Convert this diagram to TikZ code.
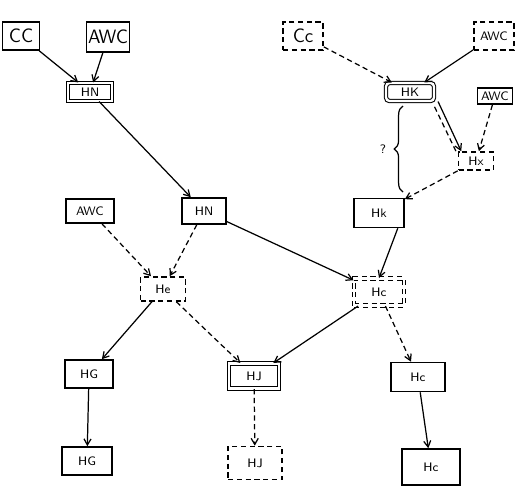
\documentclass[tikz,border=0pt]{standalone}
\usepackage{tikz}
\usetikzlibrary{arrows.meta, positioning, decorations.pathreplacing}

\begin{document}
\begin{tikzpicture}[x=0.02cm, y=-0.02cm,
        caixa/.style={draw, rectangle, line width=0.9pt, inner sep=1pt, font=\sffamily\fontsize{7}{8}\selectfont},
        grande/.style={font=\sffamily\fontsize{11}{12}\selectfont},
        dupla/.style={double, double distance=1.3pt, line width=0.6pt},
        seta/.style={-{Straight Barb[length=3.5pt, width=4pt]}, line width=0.7pt},
        tracejada/.style={densely dashed}]
        \useasboundingbox (0,0) rectangle (527,491);

        % Lado esquerdo: CC, AWC -> HN
        \node[caixa, grande, minimum width=0.74cm, minimum height=0.56cm] (cc1) at (21,36) {CC};
        \node[caixa, grande, minimum width=0.80cm, minimum height=0.60cm] (awc1) at (108,37) {AWC};
        \node[caixa, dupla, minimum width=0.88cm, minimum height=0.36cm] (hn) at (90,92) {HN};
        \node[caixa, minimum width=0.88cm, minimum height=0.52cm] (hv) at (204,211) {HN};
        \node[caixa, minimum width=0.96cm, minimum height=0.48cm] (awc2) at (90,211) {AWC};
        \node[caixa, tracejada, minimum width=0.90cm, minimum height=0.48cm] (he) at (163,289) {He};
        \draw[seta] (cc1) -- (hn);
        \draw[seta] (awc1) -- (hn);
        \draw[seta] (hn) -- (hv);
        \draw[seta, tracejada] (awc2) -- (he);
        \draw[seta, tracejada] (hv) -- (he);

        % Lado direito: Cc, AWC -> HK -> Hx -> Hk
        \node[caixa, grande, tracejada, minimum width=0.80cm, minimum height=0.56cm] (cc2) at (303,36) {Cc};
        \node[caixa, tracejada, minimum width=0.80cm, minimum height=0.56cm] (awc3) at (494,36) {AWC};
        \node[caixa, dupla, rounded corners=2pt, minimum width=0.96cm, minimum height=0.36cm] (hk) at (410,92) {HK};
        \node[caixa, minimum width=0.70cm, minimum height=0.32cm] (awc4) at (495,96) {AWC};
        \node[caixa, tracejada, minimum width=0.70cm, minimum height=0.36cm] (hx) at (476,161) {Hx};
        \node[caixa, minimum width=1.00cm, minimum height=0.58cm] (hkb) at (379,213) {Hk};
        \node[caixa, dupla, tracejada, minimum width=1.00cm, minimum height=0.54cm] (hc) at (379,292) {Hc};
        \draw[seta, tracejada] (cc2) -- (hk);
        \draw[seta] (awc3) -- (hk);
        \draw[seta] ([xshift=2pt]hk.south east) -- ([xshift=2pt]hx.north west);
        \draw[tracejada, line width=0.7pt] ([yshift=-3pt]hk.south east) -- ([xshift=-1pt]hx.north west);
        \draw[seta, tracejada] (awc4) -- (hx);
        \draw[seta, tracejada] (hx) -- (hkb);
        \draw[seta] (hv) -- (hc);
        \draw[seta] ([xshift=-4pt]hkb.south east) -- (hc.north);

        % Chave com interrogação
        \coordinate (chave1) at (403,192);
        \coordinate (chave2) at (403,106);
        \draw[line width=0.7pt, decorate, decoration={brace, amplitude=5pt}] (chave1) -- (chave2)
            node[midway, left=6pt, font=\sffamily\fontsize{7}{8}\selectfont] (duvida) {?};

        % Niveis de baixo
        \node[caixa, minimum width=0.96cm, minimum height=0.56cm] (hg1) at (89,374) {HG};
        \node[caixa, dupla, minimum width=1.00cm, minimum height=0.50cm] (hj1) at (254,376) {HJ};
        \node[caixa, minimum width=1.08cm, minimum height=0.58cm] (hc2) at (418,377) {Hc};
        \node[caixa, minimum width=1.00cm, minimum height=0.56cm] (hg2) at (87,461) {HG};
        \node[caixa, tracejada, minimum width=1.08cm, minimum height=0.66cm] (hj2) at (255,463) {HJ};
        \node[caixa, minimum width=1.16cm, minimum height=0.72cm] (hc3) at (431,467) {Hc};
        \draw[seta] (he) -- (hg1);
        \draw[seta, tracejada] (he) -- (hj1);
        \draw[seta] (hc) -- (hj1);
        \draw[seta, tracejada] (hc) -- (hc2);
        \draw[seta] (hg1) -- (hg2);
        \draw[seta, tracejada] (hj1) -- (hj2);
        \draw[seta] (hc2) -- (hc3);
    \end{tikzpicture}
\end{document}
